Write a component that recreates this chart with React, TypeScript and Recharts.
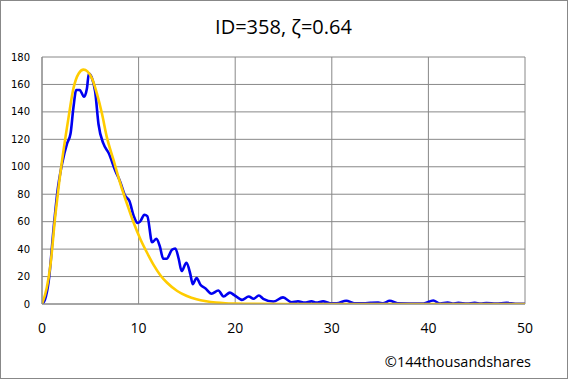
import React from "react";
import { LineChart, Line, XAxis, YAxis, CartesianGrid } from "recharts";

const title = "ID=358, ζ=0.64";
const credit = "©144thousandshares";

const xTicks = [0, 10, 20, 30, 40, 50];
const yTicks = [0, 20, 40, 60, 80, 100, 120, 140, 160, 180];

// measured (blue) curve: [x, y]
const measuredX = [
  0, 0.3, 0.7, 1.2, 1.6, 2.1, 2.6, 2.95, 3.25, 3.55, 3.9, 4.35, 4.65, 4.85, 5.15, 5.5, 5.85,
  6.35, 6.9, 7.6, 8.1, 8.6, 9.05, 9.5, 9.9, 10.15, 10.6, 10.9, 11.4, 11.85, 12.2, 12.55, 12.9,
  13.45, 13.8, 14.15, 14.45, 14.95, 15.35, 15.6, 16.0, 16.4, 16.9, 17.55, 18.25, 18.8, 19.45,
  19.9, 20.7, 21.4, 21.9, 22.45, 22.9, 23.95, 24.95, 25.85, 26.5, 27.2, 27.9, 28.4, 29.1, 29.8,
  30.5, 31.5, 32.3, 33.3, 34.0, 34.8, 35.3, 36.0, 36.8, 38, 39.5, 40.5, 41.2, 42.0, 42.5, 43.1,
  44, 44.8, 45.4, 46.0, 47, 48.1, 49, 50,
];
const measuredY = [
  0, 3, 17, 55, 82, 103, 117, 124, 143, 156, 156, 151, 157, 168, 165, 155, 131,
  117, 110, 97, 89, 79, 75, 64, 59, 60, 65, 64, 45, 47.5, 42, 33, 33,
  39.5, 40.5, 33, 24, 30, 22, 14.5, 19, 14, 11.5, 7.5, 9.8, 5.5, 8.3,
  6.5, 3, 5.5, 3.8, 6.2, 3.8, 1.8, 4.8, 1.2, 1.9, 1.0, 1.9, 1.0, 1.9, 0.6,
  0.5, 2.4, 0.5, 0.5, 0.8, 1.0, 0.5, 2.4, 0.5, 0.4, 0.4, 2.5, 0.4, 1.0, 0.4, 0.8,
  0.4, 0.8, 0.4, 0.7, 0.3, 0.8, 0.2, 0.2,
];

// fitted (yellow) curve
const fitX = [
  0, 0.5, 0.85, 1.4, 1.75, 2.25, 2.75, 3.25, 3.8, 4.3, 4.7, 5.2, 5.7, 6.2, 6.7, 7.4, 8.1,
  8.8, 9.5, 10.2, 10.9, 11.55, 12.25, 12.95, 14.0, 15.0, 16.0, 17.0, 18.0, 19, 20, 22, 25, 30, 40, 50,
];
const fitY = [
  0, 12, 27, 66, 87, 113, 136, 157, 168, 170.8, 169.5, 164, 153, 139, 122, 105, 88,
  73, 59, 47, 37, 28.5, 21, 15.5, 9.5, 5.8, 3.4, 2.0, 1.1, 0.6, 0.35, 0.1, 0, 0, 0, 0,
];

const measured = measuredX.map((x, i) => ({ x, y: measuredY[i] }));
const fit = fitX.map((x, i) => ({ x, y: fitY[i] }));

const W = 568;
const H = 379;

export default function App() {
  return (
    <div style={{ position: "absolute", left: 0, top: 0, width: W, height: H, background: "#fff" }}>
      <LineChart width={W} height={H} margin={{ top: 57, right: 43, bottom: 0, left: 0 }}>
        <CartesianGrid stroke="#888" strokeWidth={1} ticks={undefined} />
        <XAxis
          dataKey="x"
          type="number"
          domain={[0, 50]}
          ticks={xTicks}
          height={75}
          tickLine={false}
          tickSize={6}
          tickMargin={13}
          axisLine={{ stroke: "#888" }}
          tick={{ fill: "#000", fontSize: 14, fontFamily: "Open Sans" }}
          allowDataOverflow
        />
        <YAxis
          type="number"
          domain={[0, 180]}
          ticks={yTicks}
          width={42}
          tickLine={false}
          tickSize={6}
          tickMargin={6}
          axisLine={{ stroke: "#888" }}
          tick={{ fill: "#000", fontSize: 10, fontFamily: "DejaVu Sans" }}
          allowDataOverflow
        />
        <Line
          data={measured}
          dataKey="y"
          type="monotone"
          stroke="#0000F0"
          strokeWidth={2.6}
          dot={false}
          isAnimationActive={false}
        />
        <Line
          data={fit}
          dataKey="y"
          type="monotone"
          stroke="#FFCC00"
          strokeWidth={2.6}
          dot={false}
          isAnimationActive={false}
        />
      </LineChart>
      <svg
        width={W}
        height={H}
        style={{ position: "absolute", left: 0, top: 0, pointerEvents: "none" }}
      >
        <rect x={0.5} y={0.5} width={W - 1} height={H - 1} fill="none" stroke="#888" strokeWidth={1} />
        <text x={283.5} y={34} textAnchor="middle" fontFamily="Open Sans" fontSize={20} fill="#000">
          {title}
        </text>
        <text x={531} y={367} textAnchor="end" fontFamily="Open Sans" fontSize={14.5} fill="#000">
          {credit}
        </text>
      </svg>
    </div>
  );
}
